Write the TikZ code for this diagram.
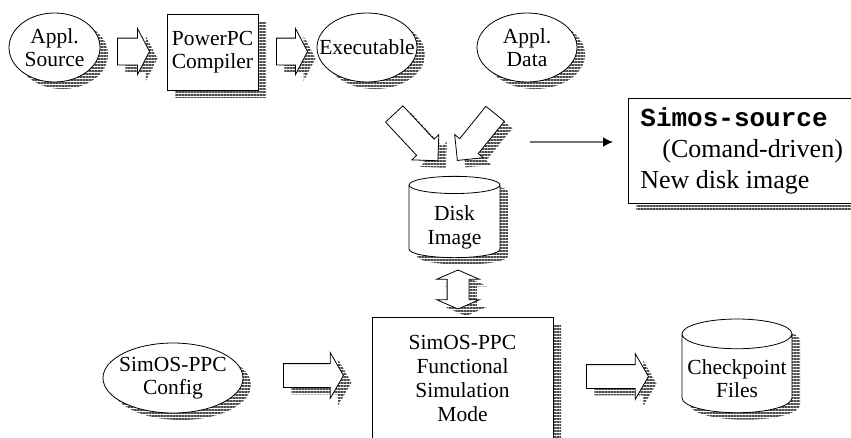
\documentclass[tikz,border=0pt]{standalone}
\usepackage{fontspec}
\setmainfont{Liberation Serif}
\setmonofont{Liberation Mono}
\usetikzlibrary{shapes.geometric, shapes.arrows, shadows, patterns.meta, arrows.meta}

\newcommand{\zw}[1]{\makebox[0pt]{#1}}

\begin{document}
\begin{tikzpicture}[x=1pt, y=-1pt,
    hatch/.style={drop shadow={shadow xshift=8pt, shadow yshift=-7pt,
                  opacity=1, pattern={Lines[distance=3pt, line width=1.8pt]},
                  pattern color=black!70}},
    txt/.style={font=\fontsize{21.5}{23.5}\selectfont, align=center},
    blob/.style={ellipse, draw, fill=white, line width=0.8pt, inner sep=0pt,
                 txt, hatch},
    box/.style={rectangle, draw, fill=white, line width=0.8pt, txt, hatch},
    disk/.style={cylinder, shape border rotate=90, draw, fill=white,
                 line width=0.8pt, inner sep=0pt, txt, hatch},
    fat/.style={single arrow, draw, fill=white, line width=0.8pt,
                inner xsep=0pt, text height=0pt, text depth=0pt,
                single arrow tip angle=125, hatch},
    thin/.style={-{Latex[length=10pt, width=10pt, black]}, line width=1.6pt,
                 black!55},
]
  \useasboundingbox (0,0) rectangle (851,437);
  \clip (0,0) rectangle (851,437);

  % top row
  \node[blob, minimum width=91, minimum height=69] (src) at (54.5,47.5)
    {\zw{Appl.}\\\zw{Source}};
  \node[fat, minimum height=32, inner ysep=13pt,
        single arrow head extend=9.5pt] (a1) at (130,51.5) {};
  \node[box, minimum width=91, minimum height=76] (comp) at (212.5,52)
    {PowerPC\\Compiler};
  \node[fat, minimum height=31, inner ysep=13pt,
        single arrow head extend=9.5pt] (a2) at (288.5,51.5) {};
  \node[blob, minimum width=100, minimum height=69] (exe) at (367,47.5)
    {\zw{Executable}};
  \node[blob, minimum width=100, minimum height=69] (data) at (527,47.5)
    {\zw{Appl.}\\\zw{Data}};

  % into the disk image
  \node[fat, minimum height=64, inner ysep=11.5pt, rotate=-47,
        single arrow head extend=6.5pt, single arrow tip angle=90] (a3)
    at (412,133) {};
  \node[fat, minimum height=60, inner ysep=11.5pt, rotate=-129,
        single arrow head extend=6.5pt, single arrow tip angle=90] (a4)
    at (480,132.5) {};
  \node[disk, minimum width=91, minimum height=77, aspect=0.32] (img)
    at (454.5,221.5) {\rule{0pt}{27pt}Disk\\Image};

  \coordinate (cmd) at (530,142);
  \node[rectangle, draw, fill=white, line width=0.8pt, anchor=west,
        minimum height=105, inner xsep=12pt, align=left,
        font=\fontsize{26}{31}\selectfont,
        drop shadow={shadow xshift=8pt, shadow yshift=-6pt, opacity=1,
                     pattern={Lines[distance=3pt, line width=1.8pt]},
                     pattern color=black!70}] (simsrc) at (628,150.5)
    {\texttt{\bfseries Simos-source}\\\hspace*{22pt}(Comand-driven)\\New disk image};
  \draw[thin, shorten >=15pt] (cmd) -- (simsrc.west |- cmd);

  \node[double arrow, draw, fill=white, line width=0.8pt, rotate=90,
        inner xsep=0pt, inner ysep=10.5pt, text height=0pt, text depth=0pt,
        minimum height=39, double arrow head extend=10.5pt,
        double arrow tip angle=133, hatch] (a5) at (458,289.5) {};

  % bottom row
  \node[blob, minimum width=140, minimum height=70] (cfg) at (173,378)
    {\zw{SimOS-PPC}\\\zw{Config}};
  \node[fat, minimum height=60, inner ysep=11.5pt,
        single arrow head extend=11pt, single arrow tip angle=120] (a6)
    at (310,375.5) {};
  \node[box, minimum width=181, minimum height=123,
        font=\fontsize{21.5}{24}\selectfont] (sim) at (462.5,378.5)
    {SimOS-PPC\\Functional\\Simulation\\Mode};
  \node[fat, minimum height=62, inner ysep=11.5pt,
        single arrow head extend=11pt, single arrow tip angle=120] (a7)
    at (614,376.5) {};
  \node[disk, minimum width=110, minimum height=83, aspect=0.3] (chk)
    at (737,373.5) {\rule{0pt}{25pt}Checkpoint\\Files};
\end{tikzpicture}
\end{document}
